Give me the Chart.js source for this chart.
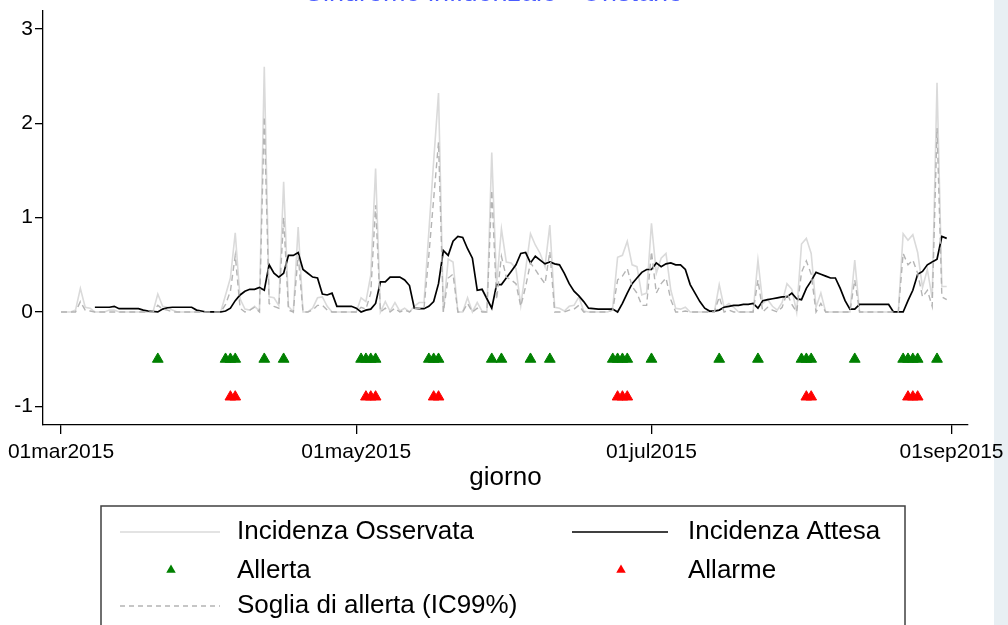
<!DOCTYPE html>
<html><head><meta charset="utf-8">
<script src="https://cdn.jsdelivr.net/npm/chart.js@4.4.1/dist/chart.umd.min.js"></script>
<style>html,body{margin:0;padding:0;background:#fff;}canvas{display:block;}</style>
</head><body>
<canvas id="c" width="1008" height="625"></canvas>
<script>
const FONT = '"Liberation Sans", Arial, Helvetica, sans-serif';
const chartTitle = 'Sindrome influenzale - Oristano';
const axisTitle = 'giorno';
const seriesLabels = ['Incidenza Osservata', 'Incidenza Attesa', 'Allerta', 'Allarme', 'Soglia di allerta (IC99%)'];
// day index 0 = 01mar2015
const tickDays = [0, 61, 122, 184];
const tickLabels = ['01mar2015', '01may2015', '01jul2015', '01sep2015'];
const yTicks = [-1, 0, 1, 2, 3];
const observed = [
 0,0,0,0.02,0.25,0.05,0.04,0,0,0,
 0.02,0.02,0,0,0,0,0,0,0,0,
 0.19,0.06,0.05,0.02,0,0,0,0,0,0,
 0,0,0,0,0.18,0.36,0.84,0.14,0.03,0.02,
 0.06,0.01,2.6,0.16,0.15,0.07,1.38,0.06,0,0.9,
 0,0,0.04,0.15,0.16,0.06,0,0,0,0,
 0,0,0.15,0.11,0.39,1.52,0,0.11,0.01,0.1,
 0.01,0.04,0,0.06,0.1,0.1,0.85,1.6,2.32,0,
 0.56,0.53,0,0,0.15,0,0.1,0.01,0,1.69,
 0.29,0.88,0.53,0.52,0.46,0.07,0.45,0.83,0.71,0.62,
 0.48,0.92,0.05,0.04,0.01,0.06,0.07,0.16,0.01,0,
 0,0,0,0,0.05,0.58,0.6,0.75,0.5,0.48,
 0.18,0.2,0.94,0.41,0.57,0.62,0.23,0.04,0.03,0.05,
 0,0,0,0,0,0,0.29,0.05,0.09,0.05,
 0,0,0,0,0.55,0.09,0.13,0.06,0.02,0.1,
 0.3,0.24,0,0.72,0.78,0.62,0.05,0.2,0,0,
 0,0,0,0,0.55,0,0,0,0,0,
 0,0,0,0,0.83,0.76,0.82,0.63,0.26,0.45,
 0.15,2.43,0.27,0.27
];
const expected = [
 null,null,null,null,null,null,null,0.05,0.05,0.05,
 0.05,0.06,0.035,0.035,0.035,0.035,0.035,0.02,0.01,0.005,
 0,0.03,0.045,0.05,0.05,0.05,0.05,0.05,0.02,0.01,
 0,0,0,0,0.01,0.04,0.12,0.18,0.22,0.24,
 0.24,0.26,0.23,0.5,0.41,0.37,0.41,0.6,0.6,0.63,
 0.45,0.41,0.37,0.36,0.19,0.18,0.2,0.06,0.06,0.06,
 0.06,0.04,0,0.02,0.03,0.09,0.32,0.32,0.37,0.37,
 0.37,0.34,0.28,0.04,0.035,0.035,0.06,0.11,0.3,0.65,
 0.6,0.75,0.8,0.79,0.67,0.57,0.23,0.24,0.14,0.04,
 0.29,0.29,0.36,0.43,0.5,0.62,0.63,0.52,0.59,0.55,
 0.51,0.53,0.51,0.5,0.41,0.3,0.22,0.17,0.11,0.04,
 0.035,0.03,0.03,0.03,0.03,0,0.09,0.2,0.3,0.36,
 0.42,0.45,0.45,0.52,0.48,0.51,0.52,0.5,0.5,0.45,
 0.29,0.2,0.11,0.04,0.01,0.01,0.02,0.05,0.06,0.07,
 0.07,0.08,0.08,0.09,0.04,0.12,0.13,0.14,0.15,0.16,
 0.16,0.2,0.14,0.13,0.25,0.33,0.42,0.4,0.38,0.36,
 0.36,0.25,0.12,0.03,0.03,0.08,0.08,0.08,0.08,0.08,
 0.08,0.08,0,0,0,0.12,0.23,0.4,0.43,0.5,
 0.53,0.56,0.8,0.78
];
const threshold = [
 0,0,0,0,0.11,0.02,0.01,0,0,0,
 0,0,0,0,0,0,0,0,0,0,
 0.07,0.03,0.02,0,0,0,0,0,0,0,
 0,0,0,0,0.08,0.22,0.6,0.04,0,0.02,
 0.05,0,2.07,0.09,0.06,0.04,1.0,0.02,0,0.6,
 0,0,0.02,0.07,0.07,0.02,0,0,0,0,
 0,0,0.05,0.03,0.2,1.13,0,0.04,0,0.04,
 0,0.02,0,0.04,0.04,0.04,0.6,1.2,1.8,0,
 0.36,0.4,0,0,0.09,0,0.04,0,0,1.29,
 0.13,0.59,0.37,0.34,0.3,0.06,0.27,0.52,0.45,0.37,
 0.3,0.64,0,0,0,0.02,0.03,0.07,0,0,
 0,0,0,0,0.02,0.34,0.38,0.46,0.27,0.2,
 0.07,0.07,0.64,0.2,0.3,0.36,0.13,0,0,0.01,
 0,0,0,0,0,0,0.16,0,0.02,0,
 0,0,0,0,0.34,0,0.05,0.02,0,0.05,
 0.2,0.08,0,0.42,0.54,0.4,0,0.09,0,0,
 0,0,0,0,0.34,0,0,0,0,0,
 0,0,0,0,0.62,0.5,0.55,0.41,0.16,0.23,
 0.06,1.95,0.16,0.13
];
const allertaDays = [20,34,35,36,42,46,62,63,64,65,76,77,78,89,91,97,101,114,115,116,117,122,136,144,153,154,155,164,174,175,176,177,181];
const allarmeDays = [35,36,63,64,65,77,78,115,116,117,154,155,175,176,177];
const allertaLevel = -0.5;
const allarmeLevel = -0.9;

const COL_OBS = '#dadada', COL_EXP = '#000000', COL_THR = '#b4b4b4', COL_G = '#008000', COL_R = '#ff0000';

function drawTri(ctx, x, y, r, color) {
  ctx.beginPath();
  ctx.moveTo(x, y - r);
  ctx.lineTo(x + r * 0.866, y + r * 0.5);
  ctx.lineTo(x - r * 0.866, y + r * 0.5);
  ctx.closePath();
  ctx.fillStyle = color; ctx.fill();
}

const decor = {
  id: 'decor',
  beforeDraw(chart) {
    const ctx = chart.ctx;
    ctx.save();
    ctx.fillStyle = '#e8eff3';
    ctx.fillRect(994, 0, 14, 625);
    ctx.restore();
  },
  afterDraw(chart) {
    const ctx = chart.ctx, a = chart.chartArea;
    ctx.save();
    // title, almost entirely above the visible area
    ctx.fillStyle = '#4a5cff';
    ctx.font = '27px ' + FONT;
    ctx.textAlign = 'center'; ctx.textBaseline = 'alphabetic';
    ctx.fillText(chartTitle, 494, 1);
    // axis title
    ctx.fillStyle = '#000';
    ctx.font = '26px ' + FONT;
    ctx.textBaseline = 'middle';
    ctx.fillText(axisTitle, (a.left + a.right) / 2, 478);
    // legend box
    ctx.strokeStyle = '#404040'; ctx.lineWidth = 1.5;
    ctx.strokeRect(101, 506, 804, 160);
    ctx.textAlign = 'left';
    const rows = [532, 571, 606];
    const cols = [{s0: 120, s1: 220, t: 237}, {s0: 572, s1: 668, t: 688}];
    const items = [
      {c: 0, r: 0, kind: 'line', color: COL_OBS, w: 1.5, dash: []},
      {c: 1, r: 0, kind: 'line', color: COL_EXP, w: 1.6, dash: []},
      {c: 0, r: 1, kind: 'tri', color: COL_G},
      {c: 1, r: 1, kind: 'tri', color: COL_R},
      {c: 0, r: 2, kind: 'line', color: COL_THR, w: 1.3, dash: [5, 4]}
    ];
    items.forEach((it, i) => {
      const col = cols[it.c], y = rows[it.r];
      if (it.kind === 'line') {
        ctx.beginPath(); ctx.setLineDash(it.dash);
        ctx.strokeStyle = it.color; ctx.lineWidth = it.w;
        ctx.moveTo(col.s0, y); ctx.lineTo(col.s1, y); ctx.stroke();
        ctx.setLineDash([]);
      } else {
        drawTri(ctx, (col.s0 + col.s1) / 2 + 1, y - 1, 5.5, it.color);
      }
      ctx.fillStyle = '#000';
      ctx.fillText(seriesLabels[i], col.t, y);
    });
    ctx.restore();
  }
};

const toXY = arr => arr.map((v, i) => ({x: i, y: v}));

new Chart(document.getElementById('c'), {
  type: 'line',
  data: {
    datasets: [
      {label: seriesLabels[0], data: toXY(observed), borderColor: COL_OBS, borderWidth: 1.6, pointRadius: 0, tension: 0, order: 5},
      {label: seriesLabels[1], data: toXY(expected), borderColor: COL_EXP, borderWidth: 1.7, pointRadius: 0, tension: 0, order: 4, spanGaps: false},
      {type: 'scatter', label: seriesLabels[2], data: allertaDays.map(d => ({x: d, y: allertaLevel})), showLine: false,
       pointStyle: 'triangle', pointRadius: 6.2, pointBackgroundColor: COL_G, pointBorderColor: COL_G, pointBorderWidth: 1, order: 3},
      {type: 'scatter', label: seriesLabels[3], data: allarmeDays.map(d => ({x: d, y: allarmeLevel})), showLine: false,
       pointStyle: 'triangle', pointRadius: 6.2, pointBackgroundColor: COL_R, pointBorderColor: COL_R, pointBorderWidth: 1, order: 2},
      {label: seriesLabels[4], data: toXY(threshold), borderColor: COL_THR, borderWidth: 1.4, borderDash: [6, 4], pointRadius: 0, tension: 0, order: 1}
    ]
  },
  options: {
    responsive: false, animation: false, devicePixelRatio: 1,
    layout: {padding: {left: 0, top: 11, right: 40, bottom: 0}},
    plugins: {legend: {display: false}, title: {display: false}, tooltip: {enabled: false}},
    scales: {
      x: {
        type: 'linear', min: -3.72, max: 187.4,
        afterBuildTicks: s => { s.ticks = tickDays.map(v => ({value: v})); },
        afterFit: s => { s.height = 200; s.paddingLeft = 0; s.paddingRight = 0; },
        ticks: {callback: v => tickLabels[tickDays.indexOf(v)], autoSkip: false, maxRotation: 0, minRotation: 0,
                color: '#000', padding: 6, font: {family: FONT, size: 21}},
        grid: {display: true, drawOnChartArea: false, drawTicks: true, tickLength: 9, color: '#000', lineWidth: 1.3},
        border: {display: true, color: '#000', width: 1.3}
      },
      y: {
        type: 'linear', min: -1.198, max: 3.19,
        afterBuildTicks: s => { s.ticks = yTicks.map(v => ({value: v})); },
        afterFit: s => { s.width = 43; s.paddingTop = 0; s.paddingBottom = 0; },
        ticks: {callback: v => String(v), color: '#000', padding: 2, font: {family: FONT, size: 21}},
        grid: {display: true, drawOnChartArea: false, drawTicks: true, tickLength: 8, color: '#000', lineWidth: 1.3},
        border: {display: true, color: '#000', width: 1.3}
      }
    }
  },
  plugins: [decor]
});
</script>
</body></html>
